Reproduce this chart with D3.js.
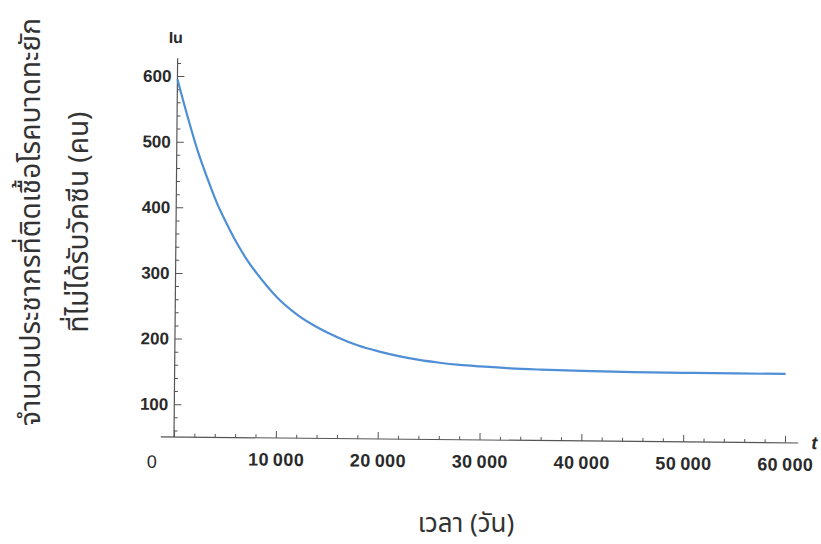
<!DOCTYPE html>
<html>
<head>
<meta charset="utf-8">
<script src="https://cdn.jsdelivr.net/npm/d3@7"></script>
<style>
  html, body { margin: 0; padding: 0; background: #ffffff; }
  svg { display: block; }
</style>
</head>
<body>
<svg id="chart" width="821" height="544"></svg>
<script>
// ---- data ----
const timeDays = [0, 1000, 2000, 3000, 4000, 5000, 6000, 7000, 8000, 9000, 10000,
  12000, 14000, 16000, 18000, 20000, 22000, 24000, 26000, 28000, 30000,
  33000, 36000, 40000, 45000, 50000, 55000, 60000];
const infectedUnvaccinated = [595, 540, 489, 446, 407, 375, 346, 321, 300, 281, 264,
  238, 219, 204, 192, 183.5, 176.5, 171, 167, 164, 162,
  159.5, 158, 156.6, 155.6, 155.2, 155, 155];
const xTickValues = [0, 10000, 20000, 30000, 40000, 50000, 60000];
const xTickLabels = ["0", "10\u2009000", "20\u2009000", "30\u2009000", "40\u2009000", "50\u2009000", "60\u2009000"];
const yTickValues = [100, 200, 300, 400, 500, 600];
const yTickLabels = ["100", "200", "300", "400", "500", "600"];
const xAxisTitle = "เวลา (วัน)";
const yAxisTitleLines = ["จำนวนประชากรที่ติดเชื้อโรคบาดทะยัก", "ที่ไม่ได้รับวัคซีน (คน)"];
const yVarLabel = "Iu";
const xVarLabel = "t";

// ---- drawing ----
const svg = d3.select("#chart");
const x = d3.scaleLinear().domain([0, 60000]).range([174, 785]);
const y = d3.scaleLinear().domain([50, 600]).range([437, 76]);

const axisColor = "#555";
const labelFont = "'Liberation Sans', Arial, sans-serif";
const thaiFont = "'Noto Sans Thai', 'Noto Sans', 'DejaVu Sans', sans-serif";

// the scanned figure is slightly rotated clockwise
const g = svg.append("g").attr("transform", "rotate(0.55,174,437)");

// axis lines
g.append("line")
  .attr("x1", x(-1300)).attr("x2", x(61300))
  .attr("y1", y(50)).attr("y2", y(50))
  .attr("stroke", axisColor).attr("stroke-width", 1.2);
g.append("line")
  .attr("x1", x(0)).attr("x2", x(0))
  .attr("y1", y(50)).attr("y2", y(627))
  .attr("stroke", axisColor).attr("stroke-width", 1.2);

// x axis ticks
const xMinor = d3.range(0, 61000, 2000).filter(v => v % 10000 !== 0);
const xMinorAxis = d3.axisBottom(x).tickValues(xMinor).tickSize(-3.5).tickFormat("");
const xMinorG = g.append("g").attr("transform", `translate(0,${y(50)})`).call(xMinorAxis);
xMinorG.select(".domain").remove();
xMinorG.selectAll("line").attr("stroke", axisColor);

const xMajorAxis = d3.axisBottom(x).tickValues(xTickValues).tickSize(-7).tickPadding(15)
  .tickFormat((d, i) => d === 0 ? "" : xTickLabels[i]);
const xMajorG = g.append("g").attr("transform", `translate(0,${y(50)})`).call(xMajorAxis);
xMajorG.select(".domain").remove();
xMajorG.selectAll("line").attr("stroke", axisColor);
xMajorG.selectAll("text")
  .attr("fill", "#2a2a2a").attr("font-family", labelFont)
  .attr("font-size", 18).attr("font-weight", "bold").attr("letter-spacing", 0.4);
// origin label sits to the lower left of the origin
g.append("text")
  .attr("x", x(0) - 22).attr("y", y(50) + 31)
  .attr("text-anchor", "middle")
  .attr("fill", "#2a2a2a").attr("font-family", labelFont)
  .attr("font-size", 18).text(xTickLabels[0]);

// y axis ticks
const yMinor = d3.range(60, 627, 20).filter(v => v % 100 !== 0);
const yMinorAxis = d3.axisLeft(y).tickValues(yMinor).tickSize(-3.5).tickFormat("");
const yMinorG = g.append("g").attr("transform", `translate(${x(0)},0)`).call(yMinorAxis);
yMinorG.select(".domain").remove();
yMinorG.selectAll("line").attr("stroke", axisColor);

const yMajorAxis = d3.axisLeft(y).tickValues(yTickValues).tickSize(-7).tickPadding(6)
  .tickFormat((d, i) => yTickLabels[i]);
const yMajorG = g.append("g").attr("transform", `translate(${x(0)},0)`).call(yMajorAxis);
yMajorG.select(".domain").remove();
yMajorG.selectAll("line").attr("stroke", axisColor);
yMajorG.selectAll("text")
  .attr("fill", "#2a2a2a").attr("font-family", labelFont)
  .attr("font-size", 17).attr("font-weight", "bold");

// variable labels
g.append("text")
  .attr("x", x(0) - 2).attr("y", 43)
  .attr("text-anchor", "middle")
  .attr("fill", "#2a2a2a").attr("font-family", labelFont)
  .attr("font-size", 16).attr("font-weight", "bold").text(yVarLabel);
g.append("text")
  .attr("x", x(61300) + 13).attr("y", y(50) + 6)
  .attr("fill", "#2a2a2a").attr("font-family", labelFont)
  .attr("font-size", 18).attr("font-style", "italic").attr("font-weight", "bold").text(xVarLabel);

// curve
const line = d3.line()
  .x((d, i) => x(timeDays[i]))
  .y(d => y(d))
  .curve(d3.curveMonotoneX);
g.append("path")
  .datum(infectedUnvaccinated)
  .attr("d", line)
  .attr("fill", "none")
  .attr("stroke", "#4f8fd6")
  .attr("stroke-width", 2.2)
  .attr("stroke-linejoin", "round");

// axis titles (Thai)
svg.append("text")
  .attr("x", 466).attr("y", 532)
  .attr("text-anchor", "middle")
  .attr("fill", "#333").attr("font-family", thaiFont)
  .attr("font-size", 26).text(xAxisTitle);

const yTitle = svg.append("text")
  .attr("transform", "translate(40,222) rotate(-90)")
  .attr("text-anchor", "middle")
  .attr("fill", "#333").attr("font-family", thaiFont)
  .attr("font-size", 28);
yTitle.append("tspan").attr("x", 0).attr("y", 0).text(yAxisTitleLines[0]);
yTitle.append("tspan").attr("x", 0).attr("y", 48).text(yAxisTitleLines[1]);
</script>
</body>
</html>
